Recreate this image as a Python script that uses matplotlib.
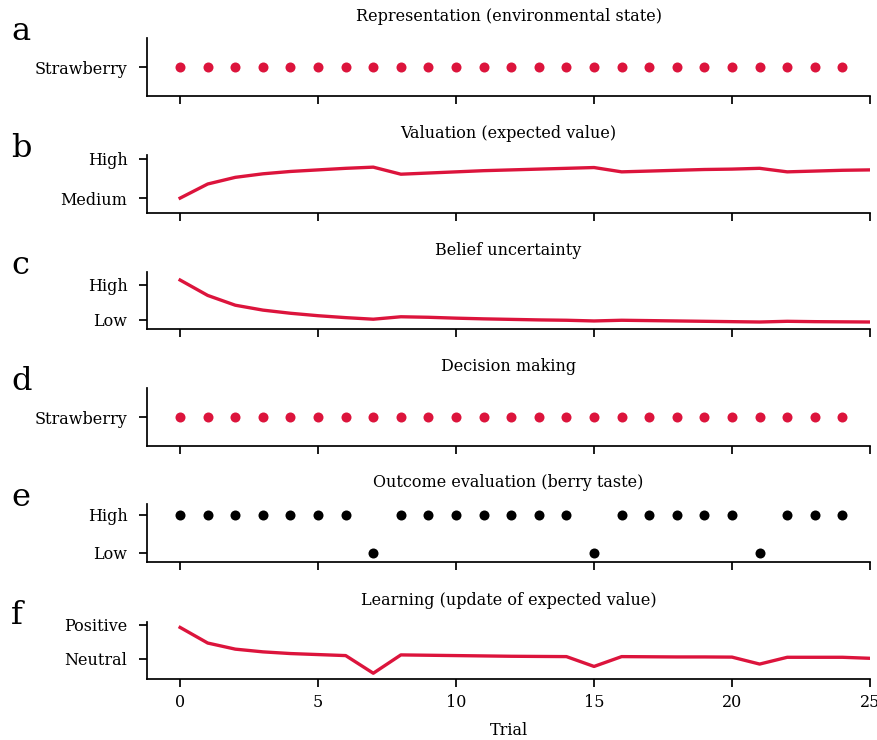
import matplotlib
matplotlib.use("Agg")
import matplotlib.pyplot as plt
import numpy as np

plt.rcParams['font.family'] = ['DejaVu Serif']

RED = '#DC143C'

trials_dots = list(range(25))
trials_line = list(range(26))

representation = [0] * 25
decision = [0] * 25

expected_value = [0.00, 0.36, 0.53, 0.62, 0.68, 0.72, 0.76, 0.79, 0.61, 0.64, 0.67,
                  0.70, 0.72, 0.74, 0.76, 0.78, 0.67, 0.69, 0.71, 0.73, 0.74, 0.76,
                  0.67, 0.69, 0.71, 0.72]

uncertainty = [1.14, 0.70, 0.42, 0.28, 0.19, 0.12, 0.065, 0.02, 0.09, 0.075, 0.05,
               0.03, 0.015, 0.0, -0.01, -0.03, -0.01, -0.02, -0.03, -0.04, -0.05,
               -0.06, -0.04, -0.05, -0.055, -0.06]

outcome = [1, 1, 1, 1, 1, 1, 1, 0, 1, 1, 1, 1, 1, 1, 1, 0, 1, 1, 1, 1, 1, 0, 1, 1, 1]

learning = [0.92, 0.46, 0.28, 0.20, 0.15, 0.12, 0.09, -0.43, 0.11, 0.10, 0.09,
            0.08, 0.07, 0.065, 0.06, -0.23, 0.06, 0.055, 0.05, 0.05, 0.045, -0.16,
            0.04, 0.04, 0.04, 0.01]

titles = ["Representation (environmental state)", "Valuation (expected value)",
          "Belief uncertainty", "Decision making", "Outcome evaluation (berry taste)",
          "Learning (update of expected value)"]
letters = ["a", "b", "c", "d", "e", "f"]
ytick_labels = [["Strawberry"], ["Medium", "High"], ["Low", "High"], ["Strawberry"],
                ["Low", "High"], ["Neutral", "Positive"]]
xticks = [0, 5, 10, 15, 20, 25]

W, H = 877, 740
fig = plt.figure(figsize=(W / 100, H / 100), dpi=100)

tops = [38, 155, 272, 388, 504, 622]
bottoms = [96, 213, 329, 446, 562, 679]
ylims = [(-1, 1), (-0.38, 1.10), (-0.26, 1.37), (-1, 1), (-0.24, 1.29), (-0.60, 1.08)]
left_px, right_px = 147, 870

axes = []
for i in range(6):
    ax = fig.add_axes([left_px / W, 1 - bottoms[i] / H, (right_px - left_px) / W,
                       (bottoms[i] - tops[i]) / H])
    axes.append(ax)
    for s in ['top', 'right']:
        ax.spines[s].set_visible(False)
    for s in ['left', 'bottom']:
        ax.spines[s].set_linewidth(1.25)
    ax.tick_params(axis='both', length=6, width=1.25, labelsize=11.5, pad=5)
    ax.tick_params(axis='y', pad=8)
    ax.set_xlim(-1.2, 25)
    ax.set_ylim(*ylims[i])
    ax.set_xticks(xticks)
    if i < 5:
        ax.set_xticklabels([])
    ax.set_title(titles[i], fontsize=11.5, pad=12)
    fig.text(11 / W, 1 - (tops[i] + 2) / H, letters[i], fontsize=23,
             ha='left', va='baseline')

axes[0].scatter(trials_dots, representation, s=52, color=RED, zorder=3, linewidths=0)
axes[0].set_yticks([0]); axes[0].set_yticklabels(ytick_labels[0])

axes[1].plot(trials_line, expected_value, color=RED, lw=2.4)
axes[1].set_yticks([0, 1]); axes[1].set_yticklabels(ytick_labels[1])

axes[2].plot(trials_line, uncertainty, color=RED, lw=2.4)
axes[2].set_yticks([0, 1]); axes[2].set_yticklabels(ytick_labels[2])

axes[3].scatter(trials_dots, decision, s=52, color=RED, zorder=3, linewidths=0)
axes[3].set_yticks([0]); axes[3].set_yticklabels(ytick_labels[3])

axes[4].scatter(trials_dots, outcome, s=52, color='black', zorder=3, linewidths=0)
axes[4].set_yticks([0, 1]); axes[4].set_yticklabels(ytick_labels[4])

axes[5].plot(trials_line, learning, color=RED, lw=2.4)
axes[5].set_yticks([0, 1]); axes[5].set_yticklabels(ytick_labels[5])
axes[5].set_xticklabels([str(t) for t in xticks])
axes[5].set_xlabel("Trial", fontsize=11.5, labelpad=8)

fig.savefig("out.png", dpi=100)
